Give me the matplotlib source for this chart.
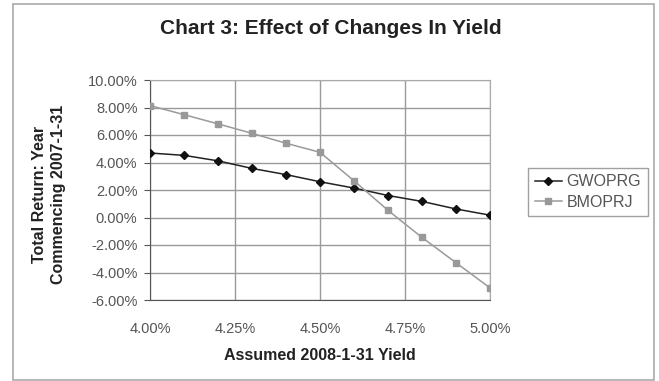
import matplotlib
matplotlib.use("Agg")
import matplotlib.pyplot as plt
from matplotlib.patches import Rectangle
from matplotlib.ticker import FuncFormatter

plt.rcParams["font.family"] = ["Liberation Sans", "DejaVu Sans"]

# assumed yield at 2008-1-31 (%)
yields = [4.0, 4.1, 4.2, 4.3, 4.4, 4.5, 4.6, 4.7, 4.8, 4.9, 5.0]
# total return, year commencing 2007-1-31 (%)
gwoprg = [4.69, 4.52, 4.12, 3.57, 3.12, 2.60, 2.14, 1.60, 1.17, 0.62, 0.17]
bmoprj = [8.14, 7.48, 6.81, 6.12, 5.40, 4.74, 2.67, 0.52, -1.45, -3.29, -5.12]

W, H = 659, 381
fig = plt.figure(figsize=(W / 100, H / 100), dpi=100)
fig.patches.append(Rectangle((13 / W, 1 / H), 641 / W, 376 / H, transform=fig.transFigure,
                             fill=False, edgecolor="#aaaaaa", linewidth=1.2))

ax = fig.add_axes([150 / W, 1 - 300 / H, 340 / W, 220 / H])
ax.plot(yields, gwoprg, color="#222222", lw=1.1, marker="D", ms=4, mfc="#111111",
        mec="#111111", label="GWOPRG", zorder=3)
ax.plot(yields, bmoprj, color="#9a9a9a", lw=1.1, marker="s", ms=5, mfc="#999999",
        mec="#999999", label="BMOPRJ", zorder=3)

ax.set_xlim(4.0, 5.0)
ax.set_ylim(-6, 10)
ax.set_xticks([4.0, 4.25, 4.5, 4.75, 5.0])
ax.set_yticks(range(-6, 11, 2))
ax.xaxis.set_major_formatter(FuncFormatter(lambda v, p: f"{v:.2f}%"))
ax.yaxis.set_major_formatter(FuncFormatter(lambda v, p: f"{v:.2f}%"))
ax.grid(True, color="#9a9a9a", lw=1.0)
ax.set_axisbelow(True)
for s in ["top", "right"]:
    ax.spines[s].set_color("#aaaaaa")
for s in ["left", "bottom"]:
    ax.spines[s].set_color("#555555")
ax.tick_params(axis="both", labelsize=10.5, colors="#555555", length=4, width=0.8, direction="out")
ax.tick_params(axis="y", pad=5)
ax.tick_params(axis="x", length=0, pad=16)

ax.set_xlabel("Assumed 2008-1-31 Yield", fontsize=11.5, fontweight="bold", color="#222222")
ax.xaxis.label.set_va("center")
ax.xaxis.set_label_coords(0.5, (300 - 355) / 220)
ax.set_ylabel("Total Return: Year\nCommencing 2007-1-31", fontsize=11.5, fontweight="bold",
              color="#222222", linespacing=1.4)
ax.yaxis.label.set_va("center")
ax.yaxis.set_label_coords((49 - 150) / 340, 0.48)

fig.text(331 / W, 1 - 29 / H, "Chart 3: Effect of Changes In Yield", ha="center", va="center",
         fontsize=15, fontweight="bold", color="#222222")

fig.legend(loc="center", bbox_to_anchor=(588 / W, 1 - 192 / H), fontsize=11.5, frameon=True,
           fancybox=False, edgecolor="#888888", handlelength=1.7, handletextpad=0.3,
           labelcolor="#555555", borderpad=0.4, labelspacing=0.35, borderaxespad=0)

fig.savefig("out.png", dpi=100)
